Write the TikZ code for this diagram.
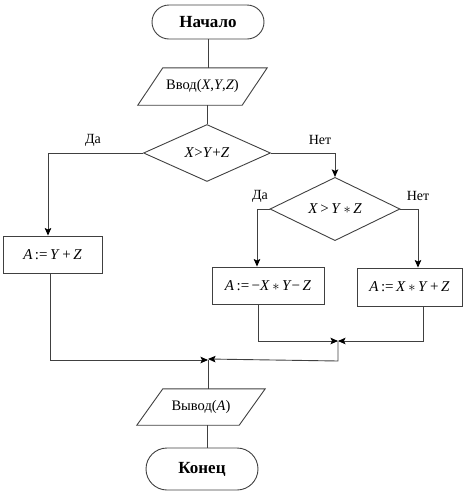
\documentclass[tikz,border=0pt]{standalone}
\usepackage{fontspec}
\setmainfont{Liberation Serif}
\usetikzlibrary{shapes.geometric,shapes.misc,arrows.meta,calc}
\newcommand\vi[1]{\textit{#1}}
\begin{document}
\begin{tikzpicture}[x=1pt,y=-1pt,
  line/.style={draw=black!75, line width=0.9pt},
  arr/.style={line,-{Stealth[length=7.5pt,width=6.5pt,inset=1.5pt,color=black,fill=black]}},
  term/.style={line, rounded rectangle, minimum width=112pt, inner sep=0pt, font=\fontsize{17}{19}\selectfont\bfseries},
  iobox/.style={inner sep=0pt, minimum height=37pt, font=\fontsize{14.5}{16}\selectfont},
  decision/.style={line, diamond, inner sep=0pt, font=\fontsize{15}{17}\selectfont},
  proc/.style={line, rectangle, inner sep=0pt, font=\fontsize{15}{17}\selectfont},
  lbl/.style={inner sep=0pt, font=\fontsize{14}{16}\selectfont}]
\useasboundingbox (0,0) rectangle (472,499);
% nodes
\node[term, minimum height=34pt] (start) at (208,22) {Начало};
\node[iobox, minimum width=104pt] (in) at (202.5,86.5) {Ввод(\vi{X},\vi{Y},\vi{Z})};
\draw[line] ($(in.north west)+(12.5,0)$) -- ($(in.north east)+(12.5,0)$) -- ($(in.south east)+(-12.5,0)$) -- ($(in.south west)+(-12.5,0)$) -- cycle;
\node[decision, minimum width=127pt, minimum height=57pt] (d1) at (207,153) {\vi{X}>\vi{Y}+\vi{Z}};
\node[decision, minimum width=130pt, minimum height=56pt] (d2) at (335,209) {\vi{X}\,>\,\vi{Y}\,$\ast$\,\vi{Z}};
\node[proc, minimum width=99pt, minimum height=37pt] (b1) at (52.5,254.5) {\vi{A}\,:=\,\vi{Y}\,+\,\vi{Z}};
\node[proc, minimum width=112pt, minimum height=37pt] (b2) at (268,285.5) {\vi{A}\,:=\,−\vi{X}\,$\ast$\,\vi{Y}−\,\vi{Z}};
\node[proc, minimum width=105pt, minimum height=38pt] (b3) at (409.5,287) {\vi{A}\,:=\,\vi{X}\,$\ast$\,\vi{Y}\,+\,\vi{Z}};
\node[iobox, minimum width=102pt, minimum height=36pt] (out) at (201,407) {Вывод(\vi{A})};
\draw[line] ($(out.north west)+(13,0)$) -- ($(out.north east)+(13,0)$) -- ($(out.south east)+(-13,0)$) -- ($(out.south west)+(-13,0)$) -- cycle;
\node[term, minimum height=42pt] (end) at (202,469) {Конец};
% labels
\node[lbl] (da1) at (93,140) {Да};
\node[lbl] (net1) at (320,140) {Нет};
\node[lbl] (da2) at (260,196) {Да};
\node[lbl] (net2) at (418,196) {Нет};
% coordinates
\coordinate (c1) at (48,153);
\coordinate (c2) at (335,153);
\coordinate (c3) at (257,209);
\coordinate (c4) at (418,209);
\coordinate (j2) at (338,341);
\coordinate (j1) at (208,360);
\coordinate (b2o) at (258,0);
\coordinate (b3o) at (423,0);
\coordinate (b1o) at (50,0);
\coordinate (vx) at (207,0);
% connectors
\draw[line] (start.south) -- (start.south |- in.north);
\draw[line] (vx |- in.south) -- (vx |- d1.north);
\draw[arr] (d1.west) -- (c1) -- (c1 |- b1.north);
\draw[arr] (d1.east) -- (c2) -- (d2.north);
\draw[arr] (d2.west) -- (c3) -- (c3 |- b2.north);
\draw[arr] (d2.east) -- (c4) -- (c4 |- b3.north);
\draw[arr] (b2o |- b2.south) -- (b2o |- j2) -- (j2);
\draw[arr] (b3o |- b3.south) -- (b3o |- j2) -- (j2);
\draw[arr] (j2) -- ++(0,20) -- ([yshift=1pt]j1);
\draw[arr] (b1o |- b1.south) -- (b1o |- j1) -- (j1);
\draw[line] (j1) -- (j1 |- out.north);
\draw[line] (vx |- out.south) -- (vx |- end.north);
\end{tikzpicture}
\end{document}
